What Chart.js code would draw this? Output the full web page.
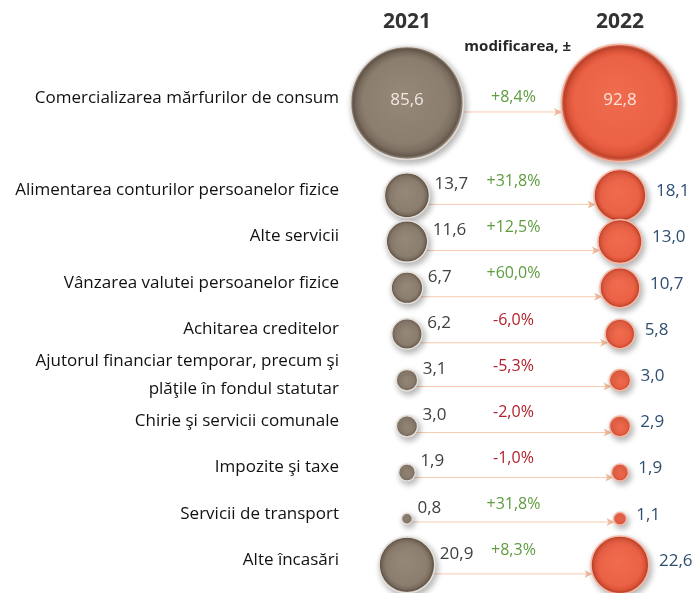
<!DOCTYPE html>
<html>
<head>
<meta charset="utf-8">
<script src="https://cdn.jsdelivr.net/npm/chart.js@4.4.0/dist/chart.umd.min.js"></script>
<style>
  body { margin: 0; background: #fff; }
  #wrap { width: 696px; height: 593px; }
</style>
</head>
<body>
<div id="wrap"><canvas id="chart" width="696" height="593"></canvas></div>
<script>
// categories (left labels)
const categories = [
  "Comercializarea mărfurilor de consum",
  "Alimentarea conturilor persoanelor fizice",
  "Alte servicii",
  "Vânzarea valutei persoanelor fizice",
  "Achitarea creditelor",
  ["Ajutorul financiar temporar, precum şi", "plăţile în fondul statutar"],
  "Chirie şi servicii comunale",
  "Impozite şi taxe",
  "Servicii de transport",
  "Alte încasări"
];
const years = ["2021", "2022"];
const values2021 = [85.6, 13.7, 11.6, 6.7, 6.2, 3.1, 3.0, 1.9, 0.8, 20.9];
const values2022 = [92.8, 18.1, 13.0, 10.7, 5.8, 3.0, 2.9, 1.9, 1.1, 22.6];
const changes = [8.4, 31.8, 12.5, 60.0, -6.0, -5.3, -2.0, -1.0, 31.8, 8.3];

const FONT = "'Open Sans'";
const K = 6.1; // bubble radius per sqrt(value)

// first row takes two slots, the rest one each
const slot = i => (i === 0 ? 0 : i + 1);
const fmt = v => v.toFixed(1).replace(".", ",");
const fmtPct = v => (v > 0 ? "+" : "") + v.toFixed(1).replace(".", ",") + "%";

const mkData = (vals, x) => vals.map((v, i) => ({ x: x, y: slot(i), r: K * Math.sqrt(v) }));

function grad(stops) {
  return function (ctx) {
    const chart = ctx.chart;
    const raw = ctx.raw;
    if (!raw || !chart.chartArea) return stops[1][1];
    const cx = chart.scales.x.getPixelForValue(raw.x);
    const cy = chart.scales.y.getPixelForValue(raw.y);
    const g = chart.ctx.createRadialGradient(cx - raw.r * 0.1, cy - raw.r * 0.15, 0, cx, cy, raw.r);
    stops.forEach(s => g.addColorStop(s[0], s[1]));
    return g;
  };
}

const brownStops = [[0, "#968878"], [0.75, "#8c7e6f"], [0.88, "#7b6d5f"], [0.95, "#66594c"], [1, "#b3a99e"]];
const redStops = [[0, "#f06c4f"], [0.75, "#eb6246"], [0.88, "#de5539"], [0.95, "#c4452d"], [1, "#f29a82"]];

// shadow under bubbles
const shadowPlugin = {
  id: "shadow",
  beforeDatasetDraw(chart) {
    const c = chart.ctx;
    c.save();
    c.shadowColor = "rgba(0,0,0,0.3)";
    c.shadowBlur = 6;
    c.shadowOffsetX = 2;
    c.shadowOffsetY = 3;
  },
  afterDatasetDraw(chart) {
    chart.ctx.restore();
  }
};

// arrows, value labels, % change labels
const annotPlugin = {
  id: "annot",
  beforeDatasetsDraw(chart) {
    const c = chart.ctx, xs = chart.scales.x, ys = chart.scales.y;
    c.save();
    c.strokeStyle = "#f6c9ae";
    c.fillStyle = "#f3bb9b";
    c.lineWidth = 1;
    values2021.forEach((v, i) => {
      const r1 = K * Math.sqrt(v), r2 = K * Math.sqrt(values2022[i]);
      const cy = ys.getPixelForValue(slot(i));
      const d = Math.min(9, r1 * 0.6, r2 * 0.6);
      const y = cy + d;
      const x1 = xs.getPixelForValue(0) + Math.sqrt(Math.max(r1 * r1 - d * d, 0));
      const x2 = xs.getPixelForValue(1) - Math.sqrt(Math.max(r2 * r2 - d * d, 0));
      c.beginPath();
      c.moveTo(x1, y);
      c.lineTo(x2 - 6, y);
      c.stroke();
      c.beginPath();
      c.moveTo(x2, y);
      c.lineTo(x2 - 8, y - 4);
      c.lineTo(x2 - 6, y);
      c.lineTo(x2 - 8, y + 4);
      c.closePath();
      c.fill();
    });
    c.restore();
  },
  afterDatasetsDraw(chart) {
    const c = chart.ctx, xs = chart.scales.x, ys = chart.scales.y;
    c.save();
    // header
    c.font = "bold 15px " + FONT;
    c.fillStyle = "#262626";
    c.textAlign = "center";
    c.textBaseline = "middle";
    c.fillText("modificarea, ±", xs.getPixelForValue(0.52), 47);

    values2021.forEach((v, i) => {
      const cy = ys.getPixelForValue(slot(i));
      const x0 = xs.getPixelForValue(0), x1 = xs.getPixelForValue(1);
      const r1 = K * Math.sqrt(v), r2 = K * Math.sqrt(values2022[i]);
      c.font = "17px " + FONT;
      if (i === 0) {
        c.textAlign = "center";
        c.fillStyle = "#efe9e2";
        c.fillText(fmt(v), x0, cy - 3);
        c.fillStyle = "#fbe3da";
        c.fillText(fmt(values2022[i]), x1, cy - 3);
      } else {
        c.textAlign = "left";
        c.fillStyle = "#404040";
        c.fillText(fmt(v), x0 + r1 + 5, cy - 11);
        c.fillStyle = "#2f4f72";
        c.fillText(fmt(values2022[i]), x1 + r2 + 10, cy - 4);
      }
      c.font = "16px " + FONT;
      c.textAlign = "center";
      c.fillStyle = changes[i] >= 0 ? "#5e9c3e" : "#b3202a";
      c.fillText(fmtPct(changes[i]), xs.getPixelForValue(0.5), cy - (i === 0 ? 6 : 14));
    });
    c.restore();
  }
};

const chart = new Chart(document.getElementById("chart"), {
  type: "bubble",
  data: {
    datasets: [
      {
        label: years[0],
        data: mkData(values2021, 0),
        backgroundColor: grad(brownStops),
        borderColor: "#e4ded8",
        borderWidth: 1.5,
        clip: false
      },
      {
        label: years[1],
        data: mkData(values2022, 1),
        backgroundColor: grad(redStops),
        borderColor: "#f6b8a6",
        borderWidth: 1.5,
        clip: false
      }
    ]
  },
  options: {
    responsive: false,
    animation: false,
    layout: { padding: 0, autoPadding: false },
    plugins: {
      legend: { display: false },
      tooltip: { enabled: false }
    },
    scales: {
      x: {
        type: "linear",
        position: "top",
        min: -0.244,
        max: 1.357,
        grid: { display: false },
        border: { display: false },
        afterBuildTicks: axis => { axis.ticks = [{ value: 0 }, { value: 1 }]; },
        afterFit: axis => {
          axis.height = 35;
          axis.paddingLeft = 0;
          axis.paddingRight = 0;
        },
        ticks: {
          padding: -8,
          color: "#333333",
          font: { family: FONT, size: 21, weight: "bold" },
          callback: v => years[v]
        }
      },
      y: {
        type: "linear",
        reverse: true,
        min: -1.472,
        max: 10.608,
        grid: { display: false },
        border: { display: false },
        afterBuildTicks: axis => { axis.ticks = categories.map((_, i) => ({ value: slot(i) })); },
        afterFit: axis => {
          axis.width = 355;
          axis.paddingTop = 0;
          axis.paddingBottom = 0;
        },
        ticks: {
          autoSkip: false,
          padding: 8,
          labelOffset: -5,
          color: "#111111",
          font: { family: FONT, size: 17, lineHeight: 1.6 },
          callback: v => categories[v === 0 ? 0 : v - 1]
        }
      }
    }
  },
  plugins: [shadowPlugin, annotPlugin]
});
</script>
</body>
</html>
